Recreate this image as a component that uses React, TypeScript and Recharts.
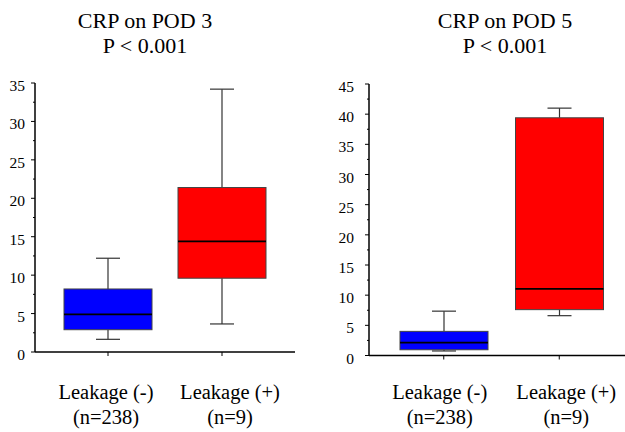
import { ComposedChart, Bar, XAxis, YAxis } from 'recharts';

const groups = ['Leakage (-)', 'Leakage (+)'];
const groupSizes = ['(n=238)', '(n=9)'];
const boxColors = ['#0000FF', '#FF0000'];

// CRP on POD 3
const pod3Min = [1.65, 3.65];
const pod3Q1 = [2.9, 9.6];
const pod3Median = [4.9, 14.4];
const pod3Q3 = [8.2, 21.4];
const pod3Max = [12.2, 34.2];
const pod3Ticks = [0, 2.5, 5, 7.5, 10, 12.5, 15, 17.5, 20, 22.5, 25, 27.5, 30, 32.5, 35];

// CRP on POD 5
const pod5Min = [0.75, 6.6];
const pod5Q1 = [0.95, 7.6];
const pod5Median = [2.15, 11.05];
const pod5Q3 = [4.0, 39.4];
const pod5Max = [7.35, 41.0];
const pod5Ticks = [0, 2.5, 5, 7.5, 10, 12.5, 15, 17.5, 20, 22.5, 25, 27.5, 30, 32.5, 35, 37.5, 40, 42.5, 45];

const FONT = 'Liberation Serif';

// force the serif face on svg text, whatever the wrapper css says
const serifRef = (size: number) => (el: SVGTextElement | null) => {
  if (!el) return;
  el.style.setProperty('font-family', FONT, 'important');
  el.style.setProperty('font-size', size + 'px', 'important');
};

function buildRows(min: number[], q1: number[], med: number[], q3: number[], max: number[]) {
  return groups.map((g, i) => ({
    name: g,
    size: groupSizes[i],
    color: boxColors[i],
    range: [min[i], max[i]],
    q1: q1[i],
    median: med[i],
    q3: q3[i],
  }));
}

// draws whiskers + box + median from the range bar the library positioned
function BoxShape(props: any) {
  const { x, y, width, height, payload } = props;
  const [lo, hi] = payload.range;
  const top = Math.min(y, y + height);
  const bottom = Math.max(y, y + height);
  const k = (bottom - top) / (hi - lo);
  const py = (v: number) => bottom - (v - lo) * k;
  const cx = x + width / 2;
  const cap = 24;
  return (
    <g>
      <line x1={cx} x2={cx} y1={py(hi)} y2={py(payload.q3)} stroke="#333" strokeWidth={1.2} />
      <line x1={cx} x2={cx} y1={py(payload.q1)} y2={py(lo)} stroke="#333" strokeWidth={1.2} />
      <line x1={cx - cap / 2} x2={cx + cap / 2} y1={py(hi)} y2={py(hi)} stroke="#333" strokeWidth={1.2} />
      <line x1={cx - cap / 2} x2={cx + cap / 2} y1={py(lo)} y2={py(lo)} stroke="#333" strokeWidth={1.2} />
      <rect
        x={x}
        y={py(payload.q3)}
        width={width}
        height={py(payload.q1) - py(payload.q3)}
        fill={payload.color}
        stroke="#444"
        strokeWidth={1}
      />
      <line x1={x} x2={x + width} y1={py(payload.median)} y2={py(payload.median)} stroke="#000" strokeWidth={1.8} />
    </g>
  );
}

function YTick(props: any) {
  const { x, y, payload, offset } = props;
  const axisX = x + 4 + offset;
  const major = payload.value % 5 === 0;
  return (
    <g>
      <line x1={axisX - (major ? 4 : 2)} x2={axisX} y1={y} y2={y} stroke="#000" strokeWidth={1} />
      {major && (
        <text ref={serifRef(15.5)} x={x} y={y} dy={8} textAnchor="end" fill="#000" fontFamily={FONT} fontSize={15.5}>
          {payload.value}
        </text>
      )}
    </g>
  );
}

function GroupTick(props: any) {
  const { x, payload, index, shifts } = props;
  const cx = x + shifts[index];
  return (
    <g fill="#000" textAnchor="middle">
      <text ref={serifRef(20.5)} x={cx} y={399} fontFamily={FONT} fontSize={20.5}>{payload.value}</text>
      <text ref={serifRef(20.5)} x={cx} y={424} fontFamily={FONT} fontSize={20.5}>{groupSizes[index]}</text>
    </g>
  );
}

function BoxPanel({ rows, ticks, top, axisWidth, tickGap, pad, shifts }: any) {
  const yMax = ticks[ticks.length - 1];
  return (
    <ComposedChart
      width={axisWidth + 260}
      height={432}
      data={rows}
      margin={{ top, right: 0, bottom: 0, left: 0 }}
    >
      <XAxis
        dataKey="name"
        padding={pad}
        height={432 - top - (yMax === 35 ? 269 : 271.5)}
        axisLine={{ stroke: '#000', strokeWidth: 1.5 }}
        tickLine={{ stroke: '#000' }}
        tickSize={4}
        interval={0}
        tick={<GroupTick shifts={shifts} />}
      />
      <YAxis
        type="number"
        domain={[0, yMax]}
        ticks={ticks}
        interval={0}
        width={axisWidth}
        tickSize={4}
        tickMargin={tickGap}
        tickLine={false}
        axisLine={{ stroke: '#000', strokeWidth: 1.5 }}
        tick={<YTick offset={tickGap} />}
      />
      <Bar dataKey="range" barSize={88} shape={<BoxShape />} isAnimationActive={false} />
    </ComposedChart>
  );
}

const titleStyle = {
  position: 'absolute' as const,
  top: 8.4,
  width: 200,
  textAlign: 'center' as const,
  fontFamily: FONT,
  fontSize: 22,
  lineHeight: '25px',
  color: '#000',
};

export default function App() {
  const pod3Rows = buildRows(pod3Min, pod3Q1, pod3Median, pod3Q3, pod3Max);
  const pod5Rows = buildRows(pod5Min, pod5Q1, pod5Median, pod5Q3, pod5Max);

  return (
    <div style={{ position: 'absolute', left: 0, top: 0, width: 625, height: 432, background: '#fff', overflow: 'hidden' }}>
      <div style={{ ...titleStyle, left: 45 }}>
        CRP on POD 3<br />P &lt; 0.001
      </div>
      <div style={{ ...titleStyle, left: 405 }}>
        CRP on POD 5<br />P &lt; 0.001
      </div>

      <div style={{ position: 'absolute', left: 0, top: 0 }}>
        <BoxPanel
          rows={pod3Rows}
          ticks={pod3Ticks}
          top={83}
          axisWidth={35}
          tickGap={6}
          pad={{ left: 16, right: 16 }}
          shifts={[-2, 8]}
        />
      </div>
      <div style={{ position: 'absolute', left: 320, top: 0 }}>
        <BoxPanel
          rows={pod5Rows}
          ticks={pod5Ticks}
          top={84}
          axisWidth={49}
          tickGap={11}
          pad={{ left: 17, right: 12 }}
          shifts={[-4, 7]}
        />
      </div>
    </div>
  );
}
